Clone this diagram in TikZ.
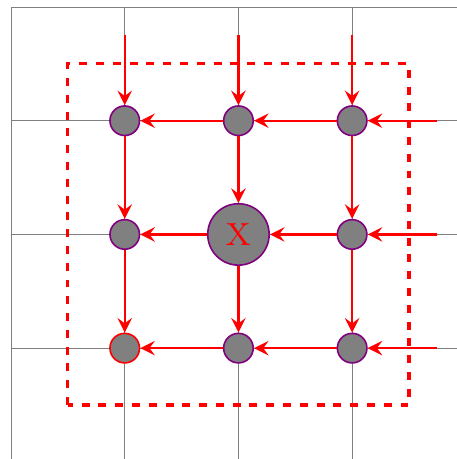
\documentclass[tikz,border=0pt]{standalone}
\begin{document}
\begin{tikzpicture}[node distance=1cm, >=stealth,
  site/.style={circle,draw=violet,fill=gray,minimum size=0.26cm,inner sep=0pt},
  flow/.style={->,red,semithick}]
	\useasboundingbox (-0.097,0.025) rectangle (3.914,4.062);
	\draw[help lines] (0,0) grid (4,4);
	\draw[red,thick,dash pattern=on 2pt off 2.2pt] (0.5,0.5) rectangle (3.5,3.5);
	\node[site] (a3) at (1,3) {};
	\node[site] (b3) [right of=a3] {};
	\node[site] (c3) [right of=b3] {};
	\node[site] (a2) [below of=a3] {};
	\node[site,minimum size=0.54cm,text=red,font=\fontsize{8}{9.6}\selectfont] (b2) [right of=a2] {X};
	\node[site] (c2) [right of=b2] {};
	\node[site,draw=red] (a1) [below of=a2] {};
	\node[site] (b1) [right of=a1] {};
	\node[site] (c1) [right of=b1] {};
	\coordinate (ta) at (1,3.75);
	\coordinate (tb) at (2,3.75);
	\coordinate (tc) at (3,3.75);
	\coordinate (r3) at (3.75,3);
	\coordinate (r2) at (3.75,2);
	\coordinate (r1) at (3.75,1);
	\draw[flow] (ta) -- (a3);
	\draw[flow] (tb) -- (b3);
	\draw[flow] (tc) -- (c3);
	\draw[flow] (r3) -- (c3);
	\draw[flow] (r2) -- (c2);
	\draw[flow] (r1) -- (c1);
	\draw[flow] (c3) -- (b3);
	\draw[flow] (b3) -- (a3);
	\draw[flow] (c2) -- (b2);
	\draw[flow] (b2) -- (a2);
	\draw[flow] (c1) -- (b1);
	\draw[flow] (b1) -- (a1);
	\draw[flow] (a3) -- (a2);
	\draw[flow] (a2) -- (a1);
	\draw[flow] (b3) -- (b2);
	\draw[flow] (b2) -- (b1);
	\draw[flow] (c3) -- (c2);
	\draw[flow] (c2) -- (c1);
\end{tikzpicture}
\end{document}
